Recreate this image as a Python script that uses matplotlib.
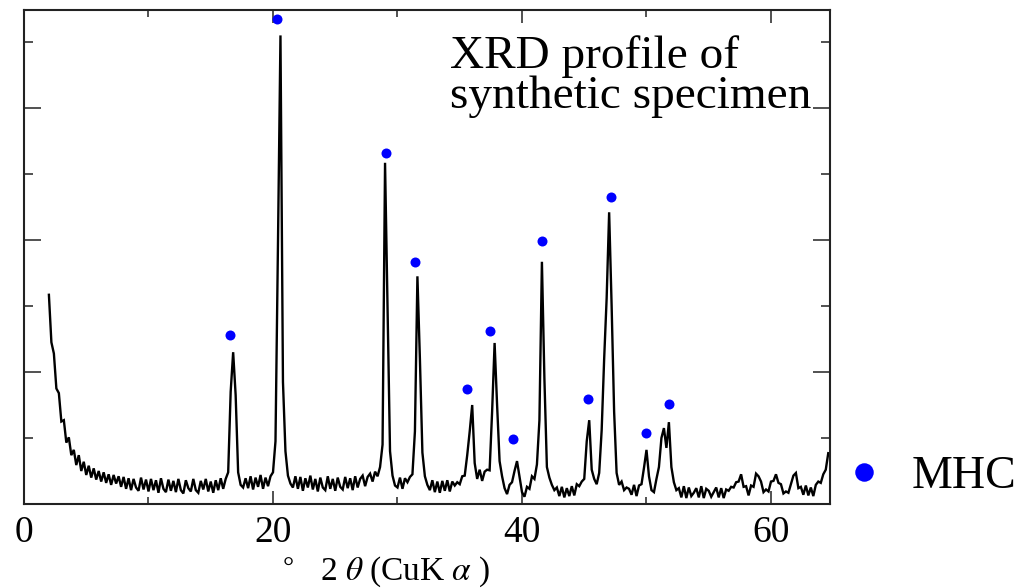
import numpy as np
import matplotlib
matplotlib.use('Agg')
import matplotlib.pyplot as plt
from matplotlib.ticker import MultipleLocator

plt.rcParams['font.family'] = ['Liberation Serif', 'DejaVu Serif']
plt.rcParams['mathtext.fontset'] = 'stix'

# XRD taramasi: 2theta = 2.0'dan baslayip 0.2 derece adimla (her satir 2 derece)
scan_start = 2.0
scan_step = 0.2
intensity = [
    3170, 2450, 2280, 1750, 1680, 1250, 1270, 930, 1010, 740,     # 2.0 - 3.8
    820, 590, 740, 500, 640, 440, 580, 400, 540, 370,             # 4.0 - 5.8
    500, 340, 480, 320, 450, 290, 440, 310, 420, 260,             # 6.0 - 7.8
    410, 230, 390, 210, 380, 250, 200, 400, 220, 370,             # 8.0 - 9.8
    190, 380, 210, 360, 170, 390, 230, 180, 370, 200,             # 10.0 - 11.8
    350, 180, 380, 210, 160, 360, 240, 190, 380, 210,             # 12.0 - 13.8
    170, 350, 220, 380, 190, 340, 170, 360, 210, 390,             # 14.0 - 15.8
    230, 380, 480, 1700, 2300, 1650, 480, 290, 250, 390,          # 16.0 - 17.8
    240, 420, 220, 400, 260, 440, 230, 400, 270, 420,             # 18.0 - 19.8
    480, 950, 3950, 7100, 1850, 800, 430, 310, 250, 420,          # 20.0 - 21.8
    230, 410, 200, 390, 250, 430, 220, 380, 190, 400,             # 22.0 - 23.8
    250, 210, 420, 230, 380, 200, 400, 260, 220, 410,             # 24.0 - 25.8
    240, 390, 210, 420, 250, 380, 430, 270, 410, 460,             # 26.0 - 27.8
    340, 490, 420, 560, 900, 5170, 3000, 800, 430, 280,           # 28.0 - 29.8
    250, 400, 230, 390, 330, 410, 450, 1100, 3450, 2200,          # 30.0 - 31.8
    780, 420, 290, 210, 360, 180, 340, 170, 350, 200,             # 32.0 - 33.8
    360, 190, 340, 280, 330, 300, 420, 430, 740, 1100,            # 34.0 - 35.8
    1500, 620, 380, 520, 350, 490, 520, 510, 1400, 2440,          # 36.0 - 37.8
    1500, 650, 420, 240, 150, 290, 330, 500, 650, 420,            # 38.0 - 39.8
    180, 110, 260, 230, 420, 380, 600, 1270, 3670, 1900,          # 40.0 - 41.8
    560, 400, 290, 210, 250, 120, 260, 100, 240, 120,             # 42.0 - 43.8
    270, 130, 300, 270, 340, 380, 950, 1270, 520, 380,            # 44.0 - 45.8
    300, 470, 1120, 2200, 3120, 4420, 3000, 1400, 470, 290,       # 46.0 - 47.8
    340, 210, 250, 230, 140, 290, 120, 280, 300, 550,             # 48.0 - 49.8
    820, 420, 210, 180, 380, 560, 1000, 1150, 850, 1240,          # 50.0 - 51.8
    560, 330, 210, 240, 100, 270, 90, 250, 120, 170,              # 52.0 - 53.8
    240, 100, 270, 90, 230, 200, 110, 180, 250, 100,              # 54.0 - 55.8
    240, 90, 220, 200, 260, 250, 330, 340, 450, 260,              # 56.0 - 57.8
    270, 130, 280, 260, 460, 420, 340, 180, 220, 190,             # 58.0 - 59.8
    340, 350, 450, 320, 300, 160, 190, 170, 300, 430,             # 60.0 - 61.8
    470, 240, 260, 140, 280, 130, 250, 120, 290, 340,             # 62.0 - 63.8
    320, 450, 520, 770,                                           # 64.0 - 64.6
]
two_theta = scan_start + scan_step * np.arange(len(intensity))

# MHC pik isaretleri (mavi noktalar)
mhc_2theta = [16.55, 20.35, 29.08, 31.41, 35.56, 37.43, 39.25, 41.58, 45.28, 47.12, 49.94, 51.81]
mhc_mark = [2560, 7350, 5320, 3670, 1740, 2625, 980, 3985, 1590, 4655, 1070, 1515]

W, H = 1035, 588
fig = plt.figure(figsize=(W / 100, H / 100), dpi=100)
ax = fig.add_axes([24 / W, 1 - 504 / H, (830 - 24) / W, (504 - 10) / H])

ax.plot(two_theta, intensity, color='black', lw=1.7, solid_joinstyle='miter')
ax.plot(mhc_2theta, mhc_mark, 'o', color='#0000ff', ms=7.2, mec='none', clip_on=False, label='MHC')

ax.set_xlim(0, 64.74)
ax.set_ylim(0, 7485)
ax.xaxis.set_major_locator(MultipleLocator(20))
ax.xaxis.set_minor_locator(MultipleLocator(10))
ax.yaxis.set_major_locator(MultipleLocator(2000))
ax.yaxis.set_minor_locator(MultipleLocator(1000))
ax.tick_params(axis='both', which='both', direction='in', top=True, right=True, width=1.1, color='#222222')
ax.tick_params(axis='x', which='major', length=9.5, pad=8, labelsize=27)
ax.tick_params(axis='x', which='minor', length=5)
ax.tick_params(axis='y', which='major', length=12)
ax.tick_params(axis='y', which='minor', length=6.5)
ax.tick_params(axis='y', labelleft=False)
for s in ax.spines.values():
    s.set_linewidth(1.5)
    s.set_color('#222222')

fig.text(450 / W, 1 - 68 / H, 'XRD profile of', fontsize=34, va='baseline', ha='left')
fig.text(450 / W, 1 - 108 / H, 'synthetic specimen', fontsize=34, va='baseline', ha='left')

fig.text(283 / W, 1 - 576 / H, '°', fontsize=20, va='baseline', ha='left')
fig.text(320 / W, 1 - 580 / H, r'2 $\theta$ (CuK $\alpha$ )', fontsize=24, va='baseline', ha='left')

fig.legend(loc='center left', bbox_to_anchor=(841 / W, 1 - 477 / H), bbox_transform=fig.transFigure,
           frameon=False, fontsize=33, markerscale=1.85, handlelength=1.0, handletextpad=0.55,
           borderpad=0, borderaxespad=0)

fig.savefig('out.png', dpi=100)
